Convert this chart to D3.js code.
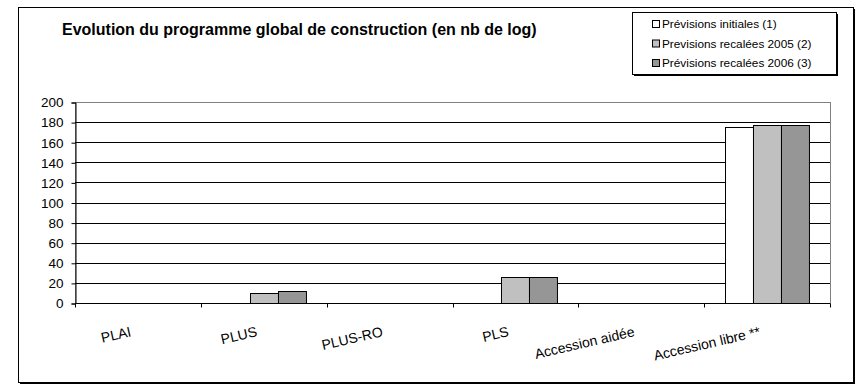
<!DOCTYPE html>
<html>
<head>
<meta charset="utf-8">
<script src="https://cdn.jsdelivr.net/npm/d3@7"></script>
<style>
  html, body { margin: 0; padding: 0; background: #fff; }
  svg { display: block; font-family: "Liberation Sans", Arial, sans-serif; }
</style>
</head>
<body>
<svg id="chart" width="859" height="386"></svg>
<script>
// Housing programme, number of dwellings per category
const categories = ["PLAI", "PLUS", "PLUS-RO", "PLS", "Accession aidée", "Accession libre **"];
const seriesNames = ["Prévisions initiales (1)", "Previsions recalées 2005 (2)", "Prévisions recalées 2006 (3)"];
const initiales = [0, 0, 0, 0, 0, 175];
const recalees2005 = [0, 10, 0, 26, 0, 177];
const recalees2006 = [0, 12, 0, 26, 0, 177];
const yTicks = [0, 20, 40, 60, 80, 100, 120, 140, 160, 180, 200];
const title = "Evolution du programme global de construction (en nb de log)";

const seriesValues = [initiales, recalees2005, recalees2006];
const seriesFill = ["#ffffff", "#c0c0c0", "#969696"];

const svg = d3.select("#chart");

// outer frame with drop shadow
svg.append("rect").attr("x", 20).attr("y", 9).attr("width", 835).attr("height", 375).attr("fill", "#000");
svg.append("rect").attr("x", 18.5).attr("y", 7.5).attr("width", 835).attr("height", 375)
  .attr("fill", "#fff").attr("stroke", "#000").attr("stroke-width", 1);

// plot geometry
const plot = { left: 75, right: 830, top: 102, bottom: 303 };

const x = d3.scaleBand().domain(categories).range([plot.left, plot.right]).padding(0);
const bw = x.bandwidth();
const xs = d3.scaleBand().domain(seriesNames).range([bw / 6, bw * 5 / 6]).padding(0);
const y = d3.scaleLinear().domain([0, 200]).range([plot.bottom, plot.top]);

// plot area border (grey)
svg.append("rect")
  .attr("x", plot.left + 0.5).attr("y", y(200) + 0.5)
  .attr("width", plot.right - plot.left).attr("height", y(0) - y(200))
  .attr("fill", "none").attr("stroke", "#808080");

// horizontal gridlines
svg.append("g").selectAll("line")
  .data(yTicks.filter(t => t > 0 && t < 200))
  .join("line")
  .attr("x1", plot.left).attr("x2", plot.right)
  .attr("y1", d => Math.round(y(d)) + 0.5).attr("y2", d => Math.round(y(d)) + 0.5)
  .attr("stroke", "#000");

// bars
const bars = [];
seriesNames.forEach((s, si) => {
  categories.forEach((c, ci) => {
    const v = seriesValues[si][ci];
    if (v > 0) bars.push({ s, si, c, v });
  });
});
svg.append("g").selectAll("rect")
  .data(bars)
  .join("rect")
  .attr("x", d => Math.round(x(d.c) + xs(d.s)) + 0.5)
  .attr("y", d => Math.round(y(d.v)) + 0.5)
  .attr("width", xs.bandwidth())
  .attr("height", d => Math.round(y(0)) - Math.round(y(d.v)))
  .attr("fill", d => seriesFill[d.si])
  .attr("stroke", "#000")
  .attr("stroke-width", 1);

// y axis
const yAxis = d3.axisLeft(y).tickValues(yTicks).tickSize(4).tickPadding(8);
const gy = svg.append("g").attr("transform", `translate(${plot.left + 0.5},0.5)`).call(yAxis);
gy.select(".domain").attr("stroke", "#000");
gy.selectAll(".tick line").attr("stroke", "#000");
gy.selectAll(".tick text").attr("font-size", 13.5).attr("fill", "#000")
  .attr("font-family", "Liberation Sans, Arial, sans-serif");

// x axis: ticks on category boundaries
const gx = svg.append("g").attr("transform", `translate(0,${Math.round(plot.bottom) + 0.5})`);
gx.append("line").attr("x1", plot.left).attr("x2", plot.right).attr("stroke", "#000");
const boundaries = categories.map(c => x(c)).concat([plot.right]);
gx.selectAll("line.tk").data(boundaries).join("line").attr("class", "tk")
  .attr("x1", d => Math.round(d) + 0.5).attr("x2", d => Math.round(d) + 0.5)
  .attr("y1", 0).attr("y2", 4).attr("stroke", "#000");

// rotated category labels
svg.append("g").selectAll("text")
  .data(categories)
  .join("text")
  .attr("transform", d => `translate(${x(d) + bw / 2 - 6},336) rotate(-13)`)
  .attr("text-anchor", "end")
  .attr("font-size", 14)
  .attr("fill", "#000")
  .text(d => d);

// title
svg.append("text").attr("x", 62).attr("y", 35)
  .attr("font-size", 16).attr("font-weight", "bold").attr("fill", "#000")
  .text(title);

// legend
const lg = svg.append("g");
lg.append("rect").attr("x", 634).attr("y", 14).attr("width", 204).attr("height", 62).attr("fill", "#000");
lg.append("rect").attr("x", 632.5).attr("y", 12.5).attr("width", 204).attr("height", 62)
  .attr("fill", "#fff").attr("stroke", "#000");
const items = lg.selectAll("g.item").data(seriesNames).join("g").attr("class", "item")
  .attr("transform", (d, i) => `translate(0,${24 + i * 19.5})`);
items.append("rect").attr("x", 652.5).attr("y", -3.5).attr("width", 7).attr("height", 7)
  .attr("fill", (d, i) => seriesFill[i]).attr("stroke", "#000");
items.append("text").attr("x", 662).attr("y", 4).attr("font-size", 11.8).attr("fill", "#000")
  .text(d => d);
</script>
</body>
</html>
